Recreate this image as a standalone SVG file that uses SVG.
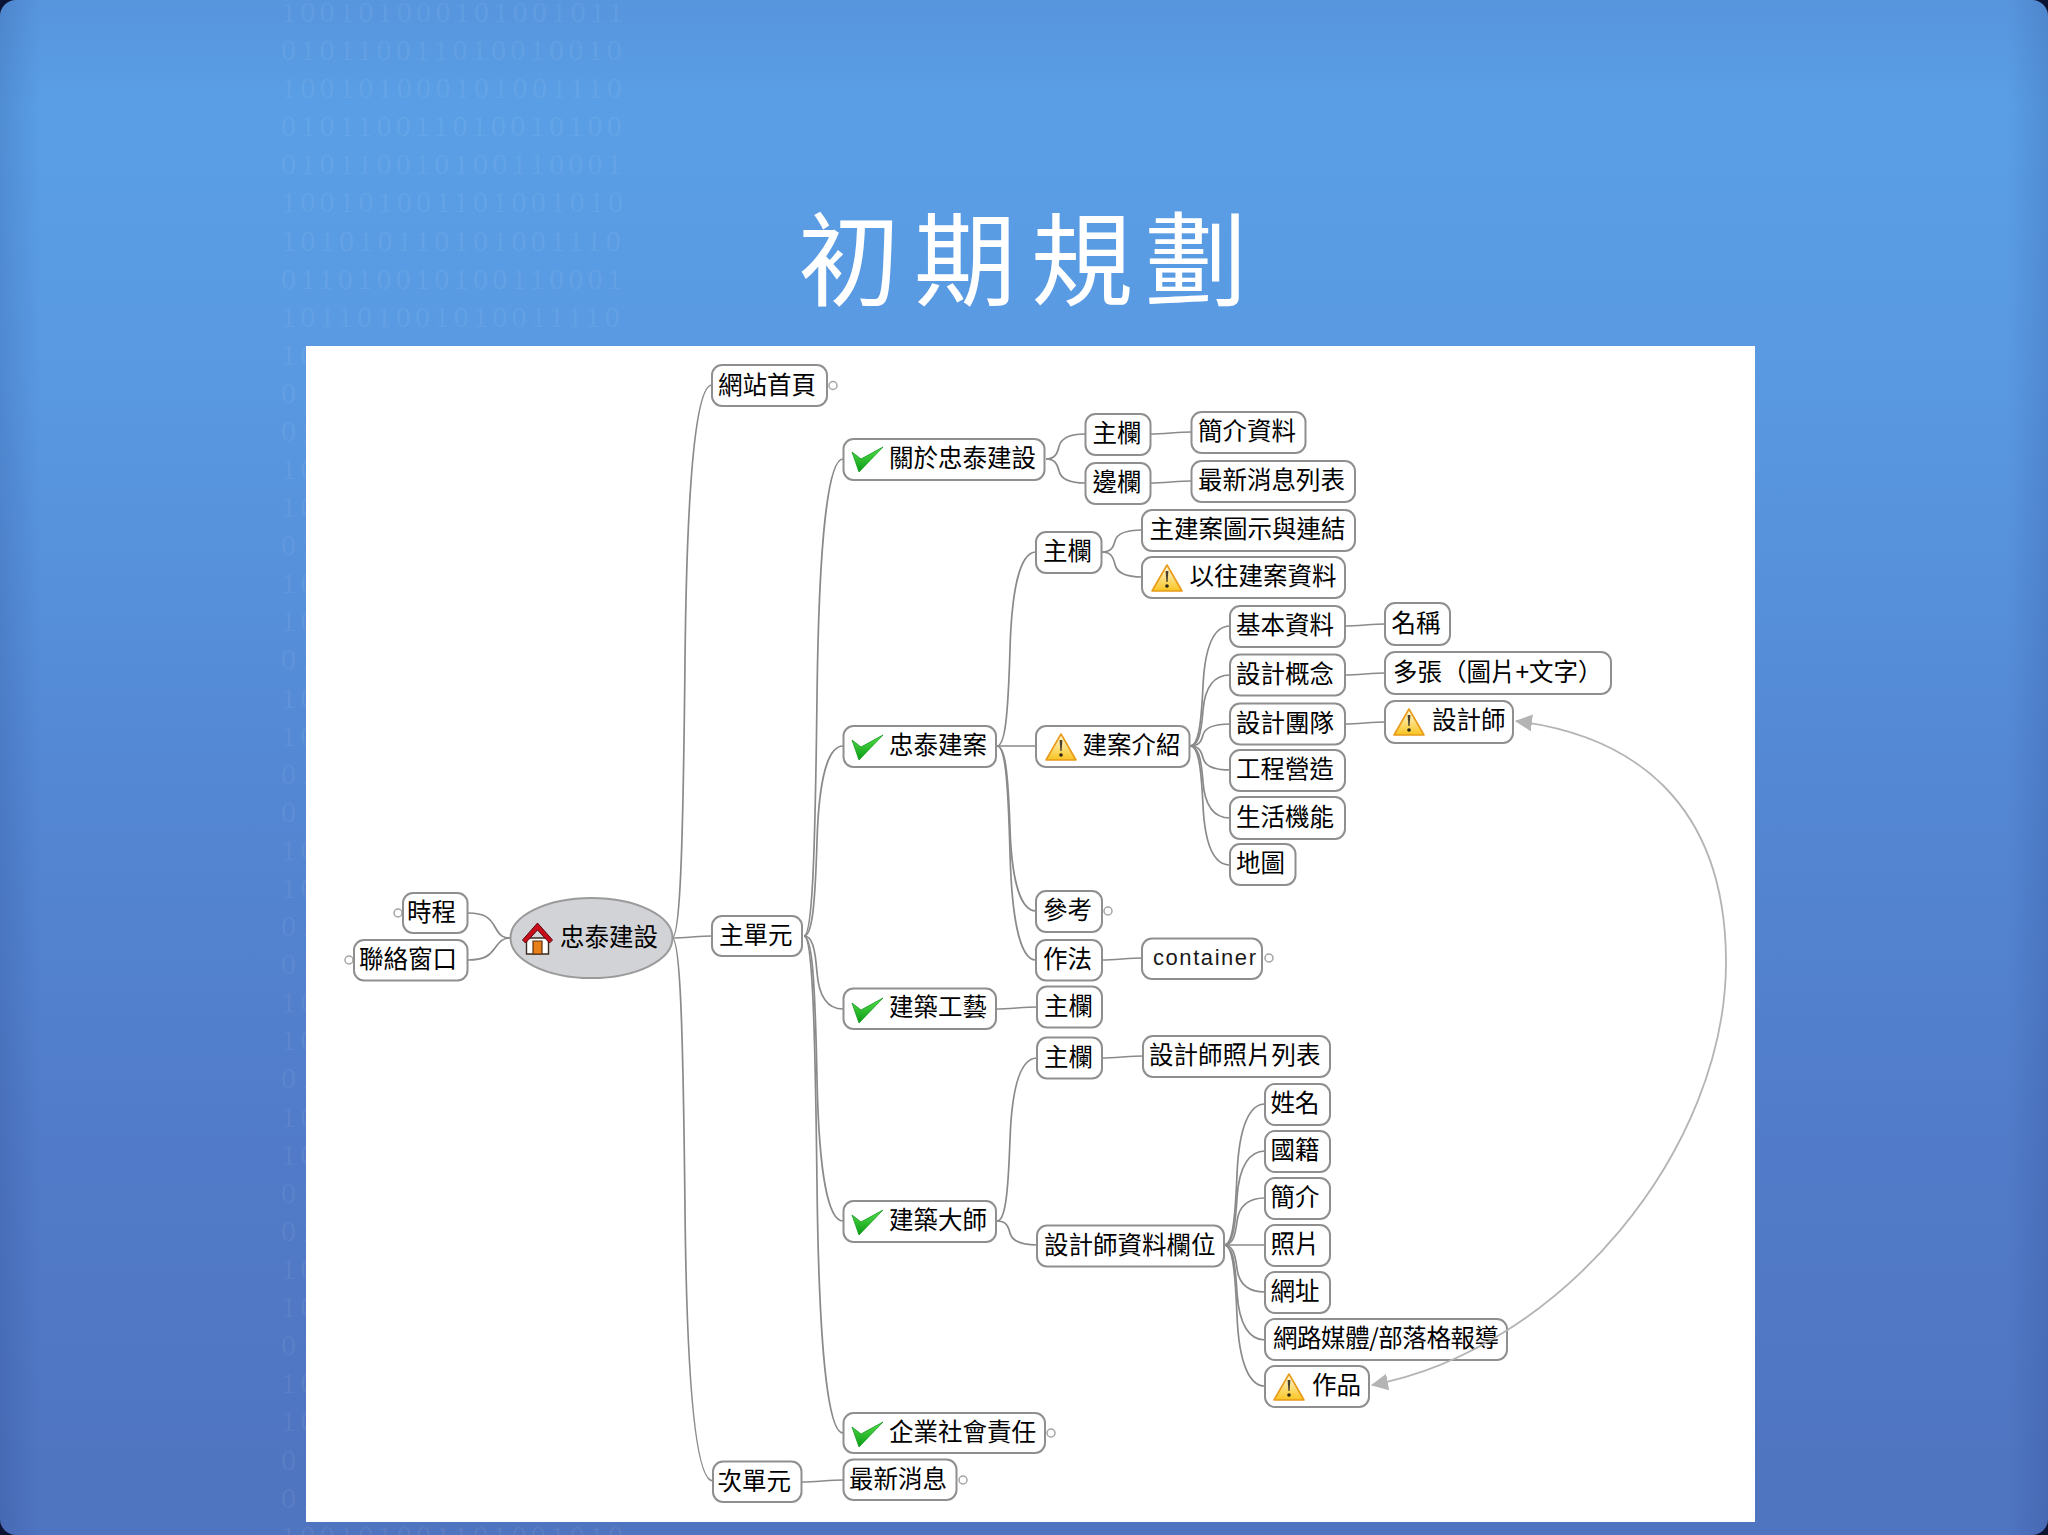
<svg xmlns="http://www.w3.org/2000/svg" xmlns:xlink="http://www.w3.org/1999/xlink" width="2048" height="1535" viewBox="0 0 2048 1535">
<style>
.b{font-family:"Liberation Serif",serif;font-size:30px;letter-spacing:4.3px;fill:#fff;fill-opacity:.07}
.title{font-family:"Noto Sans CJK TC",sans-serif;font-size:102px;fill:#fff}
.n{fill:#fff;stroke:#8f8f8f;stroke-width:2}
.t{font-family:"Noto Sans CJK TC",sans-serif;font-size:24.5px;fill:#000;transform:translate(-1px,1px)}
.l{font-family:"Liberation Sans",sans-serif;font-size:22px;fill:#1a1a1a}
.c{fill:#fff;stroke:#a5a5a5;stroke-width:1.5}
#connectors path{fill:none;stroke:#8a8a8a;stroke-width:1.7}
#relationship path{fill:none;stroke:#b4b4b4;stroke-width:1.8}
</style>
<defs>
<linearGradient id="bg" x1="0" y1="0" x2="0" y2="1">
<stop offset="0" stop-color="#5795dd"/><stop offset=".07" stop-color="#5a9fe6"/><stop offset=".25" stop-color="#5999e2"/><stop offset=".5" stop-color="#5488d4"/><stop offset=".75" stop-color="#517bc8"/><stop offset="1" stop-color="#4f74c0"/>
</linearGradient>
<linearGradient id="edge" x1="0" y1="0" x2="1" y2="0">
<stop offset="0" stop-color="#1b2f70" stop-opacity=".16"/><stop offset=".02" stop-color="#1b2f70" stop-opacity="0"/><stop offset=".98" stop-color="#1b2f70" stop-opacity="0"/><stop offset="1" stop-color="#1b2f70" stop-opacity=".16"/>
</linearGradient>
<linearGradient id="gc" x1="0" y1="0" x2="0" y2="1"><stop offset="0" stop-color="#55e04a"/><stop offset="1" stop-color="#0a9a14"/></linearGradient>
<linearGradient id="gw" x1="0" y1="0" x2="0" y2="1"><stop offset="0" stop-color="#fffbe0"/><stop offset="1" stop-color="#f8c420"/></linearGradient>
<g id="check"><path d="M0 5L9 12L31 0L7 25Z" fill="url(#gc)" stroke="#129a1c" stroke-width=".8"/></g>
<g id="warn"><path d="M15 1L30 27H0Z" fill="url(#gw)" stroke="#e89a18" stroke-width="1.6" stroke-linejoin="round"/><path d="M13.6 7H16.4L15.6 18H14.4Z" fill="#4a4030"/><circle cx="15" cy="22" r="1.8" fill="#2a2418"/></g>
<g id="house"><path d="M4 15H26V31H4Z" fill="#fff" stroke="#3a2a20" stroke-width="1.4"/><path d="M10.5 18H19.5V31H10.5Z" fill="#e8801a" stroke="#5a3010" stroke-width="1.2"/><path d="M15 0L30 17L27 20L15 7L3 20L0 17Z" fill="#c80c18" stroke="#5a0a10" stroke-width="1"/></g>
<marker id="ar" viewBox="0 0 17 17" markerWidth="17" markerHeight="17" refX="16" refY="8.5" orient="auto-start-reverse" markerUnits="userSpaceOnUse"><path d="M0 0L17 8.5L0 17Z" fill="#b4b4b4"/></marker>
</defs>

<rect width="2048" height="1535" fill="#0b1232"/>
<rect width="2048" height="1535" rx="16" fill="url(#bg)"/>
<rect width="2048" height="1535" rx="16" fill="url(#edge)"/>

<g id="binary">
<text class="b" x="281" y="22">100101000101001011</text>
<text class="b" x="281" y="60">010110011010010010</text>
<text class="b" x="281" y="98">100101000101001110</text>
<text class="b" x="281" y="136">010110011010010100</text>
<text class="b" x="281" y="174">010110010100110001</text>
<text class="b" x="281" y="212">100101001101001010</text>
<text class="b" x="281" y="251">101010110101001110</text>
<text class="b" x="281" y="289">011010010100110001</text>
<text class="b" x="281" y="327">101101001010011110</text>
<text class="b" x="281" y="365">10</text>
<text class="b" x="281" y="403">01</text>
<text class="b" x="281" y="441">01</text>
<text class="b" x="281" y="479">10</text>
<text class="b" x="281" y="517">10</text>
<text class="b" x="281" y="555">01</text>
<text class="b" x="281" y="593">10</text>
<text class="b" x="281" y="631">10</text>
<text class="b" x="281" y="669">01</text>
<text class="b" x="281" y="708">10</text>
<text class="b" x="281" y="746">10</text>
<text class="b" x="281" y="784">01</text>
<text class="b" x="281" y="822">01</text>
<text class="b" x="281" y="860">10</text>
<text class="b" x="281" y="898">10</text>
<text class="b" x="281" y="936">01</text>
<text class="b" x="281" y="974">01</text>
<text class="b" x="281" y="1012">10</text>
<text class="b" x="281" y="1050">10</text>
<text class="b" x="281" y="1088">01</text>
<text class="b" x="281" y="1127">10</text>
<text class="b" x="281" y="1165">10</text>
<text class="b" x="281" y="1203">01</text>
<text class="b" x="281" y="1241">01</text>
<text class="b" x="281" y="1279">10</text>
<text class="b" x="281" y="1317">10</text>
<text class="b" x="281" y="1355">01</text>
<text class="b" x="281" y="1393">10</text>
<text class="b" x="281" y="1431">10</text>
<text class="b" x="281" y="1470">01</text>
<text class="b" x="281" y="1508">01</text>
<text class="b" x="281" y="1546">100101001101001010</text>
</g>

<text id="title" class="title" x="798 914 1031 1145" y="298">初期規劃</text>
<rect id="panel" x="306" y="346" width="1449" height="1176" fill="#fff"/>

<g id="connectors">
<path d="M672 938C680 938 683 855 685 661.500S697 385 712 385"/>
<path d="M672 938C684 938 700 936 712 936"/>
<path d="M672 938C680 938 683 1019.500 685 1209.500S697 1481 713 1481"/>
<path d="M468 913C485 913 490 918 495 927S503 938 510 938"/>
<path d="M468 960C485 960 490 955 495 948S503 938 510 938"/>
<path d="M804 936C812 936 815 864.500 817 697.500S829 459 843 459"/>
<path d="M804 936C812 936 815 907.500 817 841S829 746 843 746"/>
<path d="M804 936C812 936 815 947 817 972.500S829 1009 843 1009"/>
<path d="M804 936C812 936 815 978.800 817 1078.500S829 1221 843 1221"/>
<path d="M804 936C812 936 815 1010.500 817 1184.500S829 1433 843 1433"/>
<path d="M802 1482C815 1482 830 1480 843 1480"/>
<path d="M1046 459C1054 459 1057 455 1059 446.500S1071 434 1085 434"/>
<path d="M1046 459C1054 459 1057 462.600 1059 471S1071 483 1085 483"/>
<path d="M1151 434C1163 434 1179 432 1191 432"/>
<path d="M1151 483C1163 483 1179 481 1191 481"/>
<path d="M997 746C1005 746 1008 717 1010 649S1022 552 1036 552"/>
<path d="M997 746C1009 746 1024 746 1036 746"/>
<path d="M997 746C1005 746 1008 771 1010 828.500S1022 911 1036 911"/>
<path d="M997 746C1005 746 1008 778 1010 853S1022 960 1036 960"/>
<path d="M1102 552C1110 552 1113 548.700 1115 541S1127 530 1142 530"/>
<path d="M1102 552C1110 552 1113 555.800 1115 564.500S1127 577 1142 577"/>
<path d="M1190 746C1198 746 1201 728 1203 686S1215 626 1230 626"/>
<path d="M1190 746C1198 746 1201 735.400 1203 710.500S1215 675 1230 675"/>
<path d="M1190 746C1198 746 1201 742.700 1203 735S1215 724 1230 724"/>
<path d="M1190 746C1198 746 1201 749.600 1203 758S1215 770 1230 770"/>
<path d="M1190 746C1198 746 1201 756.800 1203 782S1215 818 1230 818"/>
<path d="M1190 746C1198 746 1201 763.900 1203 805.500S1215 865 1230 865"/>
<path d="M1345 626C1357 626 1373 624 1385 624"/>
<path d="M1345 675C1357 675 1373 673 1385 673"/>
<path d="M1345 724C1357 724 1373 722 1385 722"/>
<path d="M1102 960C1114 960 1130 958 1142 958"/>
<path d="M996 1009C1008 1009 1025 1007 1037 1007"/>
<path d="M997 1221C1005 1221 1008 1196.500 1010 1139.500S1022 1058 1037 1058"/>
<path d="M997 1221C1005 1221 1008 1224.600 1010 1233S1022 1245 1037 1245"/>
<path d="M1102 1058C1114 1058 1131 1056 1143 1056"/>
<path d="M1224 1245C1232 1245 1235 1223.900 1237 1174.500S1250 1104 1265 1104"/>
<path d="M1224 1245C1232 1245 1235 1230.900 1237 1198S1250 1151 1265 1151"/>
<path d="M1224 1245C1232 1245 1235 1238 1237 1221.500S1250 1198 1265 1198"/>
<path d="M1224 1245H1265"/>
<path d="M1224 1245C1232 1245 1235 1252 1237 1268.500S1250 1292 1265 1292"/>
<path d="M1224 1245C1232 1245 1235 1259.300 1237 1292.500S1250 1340 1265 1340"/>
<path d="M1224 1245C1232 1245 1235 1266 1237 1315.500S1250 1386 1265 1386"/>
</g>

<g id="n-root"><ellipse cx="591.500" cy="938" rx="81" ry="40" fill="#d2d3d6" stroke="#9a9a9a" stroke-width="2"/><use xlink:href="#house" href="#house" x="522.500" y="923"/><text class="t" x="561" y="945">忠泰建設</text></g>
<g id="n-schedule"><circle class="c" cx="398" cy="913" r="4"/><rect class="n" x="403" y="893" width="64.500" height="40" rx="10"/><text class="t" x="408" y="920">時程</text></g>
<g id="n-contact"><circle class="c" cx="349" cy="960" r="4"/><rect class="n" x="354" y="940" width="113.500" height="40.500" rx="10"/><text class="t" x="360" y="967">聯絡窗口</text></g>
<g id="n-home"><rect class="n" x="712" y="365" width="115" height="41" rx="10"/><circle class="c" cx="833" cy="385.500" r="4"/><text class="t" x="719" y="393">網站首頁</text></g>
<g id="n-main"><rect class="n" x="712" y="916" width="90" height="40" rx="10"/><text class="t" x="720" y="943">主單元</text></g>
<g id="n-secondary"><rect class="n" x="713" y="1461.500" width="88.500" height="40.500" rx="10"/><text class="t" x="718.500" y="1489">次單元</text></g>
<g id="n-news"><rect class="n" x="843.500" y="1459.500" width="113" height="40.500" rx="10"/><circle class="c" cx="963" cy="1480" r="4"/><text class="t" x="850" y="1487">最新消息</text></g>
<g id="n-about"><rect class="n" x="843.500" y="439" width="201" height="41" rx="10"/><use xlink:href="#check" href="#check" x="852" y="447"/><text class="t" x="890" y="466">關於忠泰建設</text></g>
<g id="n-about-main"><rect class="n" x="1085.500" y="414" width="65" height="41" rx="10"/><text class="t" x="1093.500" y="441">主欄</text></g>
<g id="n-about-side"><rect class="n" x="1085.500" y="463" width="65" height="41" rx="10"/><text class="t" x="1093.500" y="490">邊欄</text></g>
<g id="n-intro"><rect class="n" x="1191.500" y="412" width="114" height="41" rx="10"/><text class="t" x="1199" y="439">簡介資料</text></g>
<g id="n-newslist"><rect class="n" x="1191.500" y="461" width="163.500" height="41" rx="10"/><text class="t" x="1199" y="488">最新消息列表</text></g>
<g id="n-projects"><rect class="n" x="843.500" y="726" width="152.500" height="41" rx="10"/><use xlink:href="#check" href="#check" x="852" y="735"/><text class="t" x="890" y="753">忠泰建案</text></g>
<g id="n-proj-main"><rect class="n" x="1036" y="532" width="65.500" height="41" rx="10"/><text class="t" x="1044" y="559">主欄</text></g>
<g id="n-proj-icons"><rect class="n" x="1142" y="510" width="213" height="41" rx="10"/><text class="t" x="1150.500" y="537">主建案圖示與連結</text></g>
<g id="n-proj-past"><rect class="n" x="1142" y="557" width="203" height="41" rx="10"/><use xlink:href="#warn" href="#warn" x="1152" y="564"/><text class="t" x="1190.500" y="584">以往建案資料</text></g>
<g id="n-proj-desc"><rect class="n" x="1036" y="726" width="153.500" height="41" rx="10"/><use xlink:href="#warn" href="#warn" x="1046" y="733"/><text class="t" x="1083.500" y="753">建案介紹</text></g>
<g id="n-basic"><rect class="n" x="1230" y="606" width="115" height="41" rx="10"/><text class="t" x="1237" y="633">基本資料</text></g>
<g id="n-name"><rect class="n" x="1385" y="603" width="65" height="42" rx="10"/><text class="t" x="1392.500" y="631">名稱</text></g>
<g id="n-concept"><rect class="n" x="1230" y="654.500" width="115" height="41" rx="10"/><text class="t" x="1237" y="682">設計概念</text></g>
<g id="n-multi"><rect class="n" x="1385" y="652" width="226" height="42" rx="10"/><text class="t" x="1394" y="680">多張（圖片+文字）</text></g>
<g id="n-team"><rect class="n" x="1230" y="703.500" width="115" height="41" rx="10"/><text class="t" x="1237" y="731">設計團隊</text></g>
<g id="n-designer"><rect class="n" x="1385" y="701" width="128" height="42" rx="10"/><use xlink:href="#warn" href="#warn" x="1394" y="708"/><text class="t" x="1433" y="728">設計師</text></g>
<g id="n-build"><rect class="n" x="1230" y="750" width="115" height="41" rx="10"/><text class="t" x="1237" y="777">工程營造</text></g>
<g id="n-life"><rect class="n" x="1230" y="797" width="115" height="42" rx="10"/><text class="t" x="1237" y="825">生活機能</text></g>
<g id="n-map"><rect class="n" x="1230" y="844" width="65.500" height="41" rx="10"/><text class="t" x="1237" y="871">地圖</text></g>
<g id="n-ref"><rect class="n" x="1036" y="891" width="66" height="41" rx="10"/><circle class="c" cx="1108" cy="911" r="4"/><text class="t" x="1044" y="918">參考</text></g>
<g id="n-method"><rect class="n" x="1036" y="940" width="66" height="40.500" rx="10"/><text class="t" x="1044" y="967">作法</text></g>
<g id="n-container"><rect class="n" x="1142" y="938.500" width="120" height="40.500" rx="10"/><circle class="c" cx="1269" cy="958" r="4"/><text class="l" x="1153" y="965" textLength="103" lengthAdjust="spacing">container</text></g>
<g id="n-craft"><rect class="n" x="843.500" y="988.500" width="152.500" height="40.500" rx="10"/><use xlink:href="#check" href="#check" x="852" y="998"/><text class="t" x="890" y="1015">建築工藝</text></g>
<g id="n-craft-main"><rect class="n" x="1037" y="986.500" width="65" height="41" rx="10"/><text class="t" x="1045" y="1014">主欄</text></g>
<g id="n-master"><rect class="n" x="843.500" y="1201" width="152.500" height="41" rx="10"/><use xlink:href="#check" href="#check" x="852" y="1210"/><text class="t" x="890" y="1228">建築大師</text></g>
<g id="n-master-main"><rect class="n" x="1037" y="1037.500" width="65" height="41" rx="10"/><text class="t" x="1045" y="1065">主欄</text></g>
<g id="n-photos"><rect class="n" x="1143" y="1036" width="187" height="41" rx="10"/><text class="t" x="1150" y="1063">設計師照片列表</text></g>
<g id="n-fields"><rect class="n" x="1037" y="1225.500" width="187" height="41" rx="10"/><text class="t" x="1045" y="1253">設計師資料欄位</text></g>
<g id="n-f-name"><rect class="n" x="1265" y="1084" width="65" height="41" rx="10"/><text class="t" x="1271.500" y="1111">姓名</text></g>
<g id="n-f-nation"><rect class="n" x="1265" y="1131" width="65" height="41" rx="10"/><text class="t" x="1271.500" y="1158">國籍</text></g>
<g id="n-f-bio"><rect class="n" x="1265" y="1178" width="65" height="41" rx="10"/><text class="t" x="1271.500" y="1205">簡介</text></g>
<g id="n-f-photo"><rect class="n" x="1265" y="1225" width="65" height="41" rx="10"/><text class="t" x="1271.500" y="1252">照片</text></g>
<g id="n-f-url"><rect class="n" x="1265" y="1272" width="65" height="41" rx="10"/><text class="t" x="1271.500" y="1299">網址</text></g>
<g id="n-f-media"><rect class="n" x="1265" y="1319" width="242" height="41" rx="10"/><text class="t" x="1274" y="1346" textLength="226">網路媒體/部落格報導</text></g>
<g id="n-f-works"><rect class="n" x="1265" y="1366" width="104" height="41" rx="10"/><use xlink:href="#warn" href="#warn" x="1274" y="1373"/><text class="t" x="1313" y="1393">作品</text></g>
<g id="n-csr"><rect class="n" x="843.500" y="1413" width="201.500" height="40" rx="10"/><circle class="c" cx="1051" cy="1433" r="4"/><use xlink:href="#check" href="#check" x="852" y="1422"/><text class="t" x="890" y="1440">企業社會責任</text></g>

<g id="relationship"><path d="M1372 1385C1560 1350 1727 1150 1726 960C1725 800 1630 735 1516 721" marker-start="url(#ar)" marker-end="url(#ar)"/></g>
</svg>
